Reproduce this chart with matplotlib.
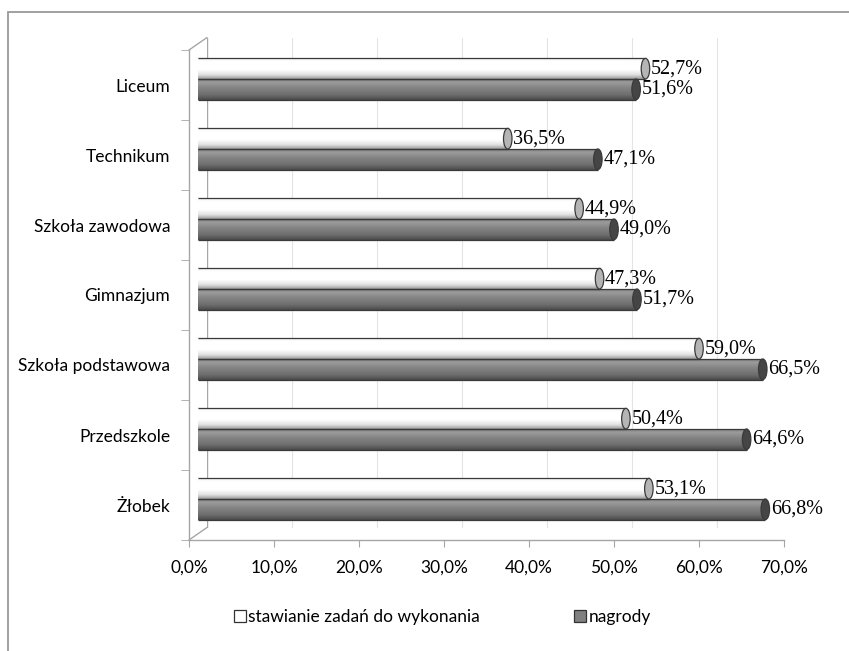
import numpy as np
import matplotlib.pyplot as plt
from matplotlib.patches import Ellipse, Rectangle, ConnectionPatch
from matplotlib.ticker import FuncFormatter, FixedLocator

# ---- data ----
categories = ["Żłobek", "Przedszkole", "Szkoła podstawowa", "Gimnazjum",
              "Szkoła zawodowa", "Technikum", "Liceum"]
tasks = [53.1, 50.4, 59.0, 47.3, 44.9, 36.5, 52.7]
rewards = [66.8, 64.6, 66.5, 51.7, 49.0, 47.1, 51.6]
series_names = ["stawianie zadań do wykonania", "nagrody"]
xticks = [0, 10, 20, 30, 40, 50, 60, 70]

W, H = 849, 651
fig = plt.figure(figsize=(W / 100, H / 100), dpi=100)

SANS = "Lato"
SERIF = "Liberation Serif"
AX_COL = "#a6a6a6"

# front plane (axes with ticks)
L, R, B, T = 189, 784, 540, 50
ax = fig.add_axes([L / W, (H - B) / H, (R - L) / W, (B - T) / H])
# bar plane (shifted for depth)
dxb, dyb = 8.5, 6
axb = fig.add_axes([(L + dxb) / W, (H - B + dyb) / H, (R - L) / W, (B - T) / H])
# back wall plane
dxg, dyg = 18, 12.5
axg = fig.add_axes([(L + dxg) / W, (H - B + dyg) / H, (R - L) / W, (B - T) / H])
axg.set_zorder(0)
ax.set_zorder(1)
axb.set_zorder(2)
for a in (ax, axb, axg):
    a.set_xlim(0, 70)
    a.set_ylim(0, len(categories))
    a.patch.set_visible(False)

# back wall: gridlines + vertical wall line
for v in xticks[1:-1]:
    axg.axvline(v, color="#e4e4e4", lw=0.8)
axg.axvline(0, color=AX_COL, lw=1.0)
axg.axis("off")

# front axes styling
for s in ("top", "right"):
    ax.spines[s].set_visible(False)
for s in ("left", "bottom"):
    ax.spines[s].set_color(AX_COL)
    ax.spines[s].set_linewidth(1.0)
ax.set_xticks(xticks)
ax.xaxis.set_major_formatter(FuncFormatter(lambda v, p: f"{v:.1f}%".replace(".", ",")))
ax.tick_params(axis="x", direction="out", length=5, color=AX_COL, pad=9,
               labelsize=12.5, labelcolor="black")
ax.set_yticks(np.arange(len(categories)) + 0.5)
ax.set_yticklabels(categories)
ax.yaxis.set_minor_locator(FixedLocator(np.arange(len(categories) + 1)))
ax.tick_params(axis="y", which="major", length=0, pad=13.5, labelsize=12.5)
ax.tick_params(axis="y", which="minor", direction="out", length=6, color=AX_COL)
for lab in ax.get_xticklabels() + ax.get_yticklabels():
    lab.set_fontfamily(SANS)

# depth connectors
for yy in (0, 1):
    con = ConnectionPatch(xyA=(0, yy), coordsA=ax.transAxes,
                          xyB=(0, yy), coordsB=axg.transAxes,
                          color=AX_COL, lw=1.0)
    fig.add_artist(con)


def grad(stops, n=64):
    t = np.linspace(0, 1, n)
    pos = [s[0] for s in stops]
    cols = [np.array(plt.matplotlib.colors.to_rgb(s[1])) for s in stops]
    arr = np.zeros((n, 1, 3))
    for c in range(3):
        arr[:, 0, c] = np.interp(t, pos, [col[c] for col in cols])
    return arr


white_grad = grad([(0, "#9a9a9a"), (0.2, "#e0e0e0"), (0.45, "#ffffff"),
                   (0.85, "#ffffff"), (1, "#ececec")])
gray_grad = grad([(0, "#4a4a4a"), (0.25, "#6e6e6e"), (0.6, "#858585"),
                  (0.85, "#9c9c9c"), (1, "#7c7c7c")])

bh = 0.295
cap_w = 1.0
EDGE = "#3a3a3a"


def cylinder(a, value, y0, arr, cap_face, left_face):
    y1 = y0 + bh
    yc = (y0 + y1) / 2
    a.add_patch(Ellipse((0, yc), cap_w, bh, facecolor=left_face,
                        edgecolor=EDGE, lw=0.9, zorder=2))
    a.imshow(arr, extent=[0, value, y0, y1], origin="lower", aspect="auto",
             interpolation="bilinear", zorder=3)
    a.plot([0, value], [y0, y0], color=EDGE, lw=0.9, zorder=4,
           solid_capstyle="butt")
    a.plot([0, value], [y1, y1], color=EDGE, lw=0.9, zorder=4,
           solid_capstyle="butt")
    a.add_patch(Ellipse((value, yc), cap_w, bh, facecolor=cap_face,
                        edgecolor=EDGE, lw=0.9, zorder=5))
    a.annotate(f"{value:.1f}%".replace(".", ","), (value, yc),
               xytext=(4, 0), textcoords="offset points", ha="left",
               va="center", fontsize=14.5, family=SERIF, zorder=6)


for i, (tv, rv) in enumerate(zip(tasks, rewards)):
    c = i + 0.5
    cylinder(axb, rv, c - bh, gray_grad, "#454545", "#7a7a7a")
    cylinder(axb, tv, c, white_grad, "#b5b5b5", "#f2f2f2")

axb.set_xlim(0, 70)
axb.set_ylim(0, len(categories))
axb.axis("off")

# legend
handles = [Rectangle((0, 0), 1, 1, facecolor="white", edgecolor="#333333", lw=0.9),
           Rectangle((0, 0), 1, 1, facecolor="#808080", edgecolor="#333333", lw=0.9)]
leg = fig.legend(handles, series_names, loc="center", bbox_to_anchor=(0.521, 0.052),
                 ncol=2, frameon=False, handlelength=0.7, handleheight=0.7,
                 handletextpad=0.15, columnspacing=5.4,
                 prop={"family": SANS, "size": 12.5})

# outer frame
fig.add_artist(Rectangle((8 / W, -0.2), 2, (H - 12) / H + 0.2,
                         transform=fig.transFigure, fill=False,
                         edgecolor="#9a9a9a", lw=1.3))

fig.savefig("out.png", dpi=100)
